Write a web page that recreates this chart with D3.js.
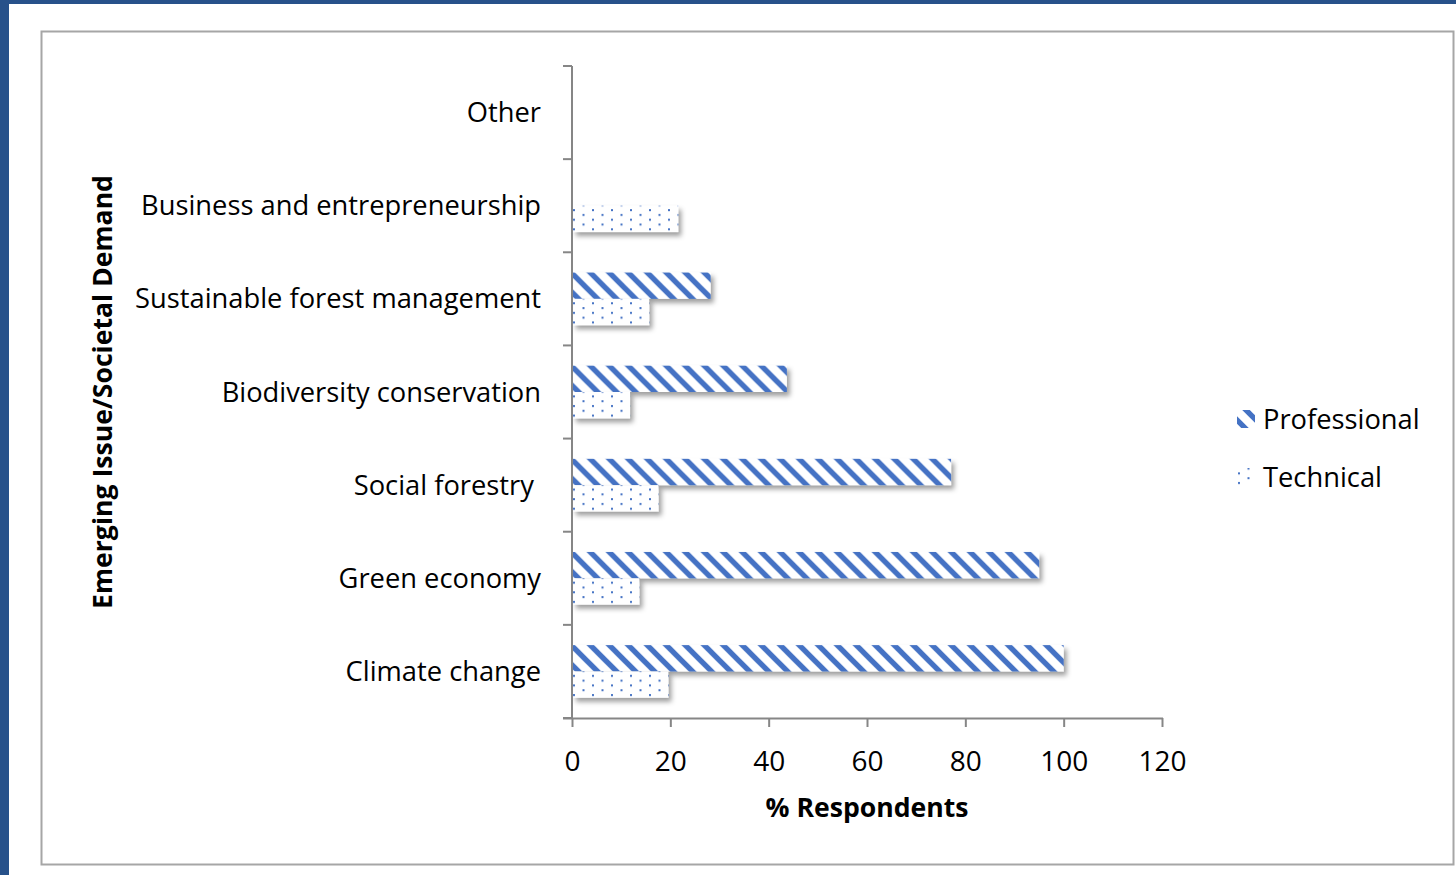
<!DOCTYPE html>
<html>
<head>
<meta charset="utf-8">
<script src="https://cdn.jsdelivr.net/npm/d3@7/dist/d3.min.js"></script>
<style>
  html, body { margin: 0; padding: 0; background: #ffffff; }
  svg { display: block; }
  text { font-family: "Open Sans", Lato, sans-serif; fill: #000; }
</style>
</head>
<body>
<svg id="chart" width="1456" height="875"></svg>
<script>
// Categories listed bottom-to-top as they appear on the axis
const categories = [
  "Climate change",
  "Green economy",
  "Social forestry ",
  "Biodiversity conservation",
  "Sustainable forest management",
  "Business and entrepreneurship",
  "Other"
];
const seriesNames = ["Professional", "Technical"];
const professional = [100, 95, 77.1, 43.7, 28.2, 0, 0];
const technical = [19.6, 13.7, 17.6, 11.8, 15.7, 21.6, 0];
const xTicks = [0, 20, 40, 60, 80, 100, 120];
const xTitle = "% Respondents";
const yTitle = "Emerging Issue/Societal Demand";

const blue = "#4472c4";
const axisGrey = "#868686";
const fontFamily = "'Open Sans', Lato, sans-serif";
const labelSize = 27.3;
const titleSize = 26.6;

const svg = d3.select("#chart");

// page frame: dark blue slide edges and the bordered chart area
svg.append("rect").attr("x", 0).attr("y", 0).attr("width", 1456).attr("height", 875).attr("fill", "#27518a");
svg.append("rect").attr("x", 9).attr("y", 4).attr("width", 1447).attr("height", 871).attr("fill", "#ffffff");
svg.append("rect").attr("x", 41.5).attr("y", 31.5).attr("width", 1412).attr("height", 833)
  .attr("fill", "#ffffff").attr("stroke", "#a6a6a6").attr("stroke-width", 2);

const defs = svg.append("defs");

// wide downward diagonal hatch
const hatch = defs.append("pattern").attr("id", "hatch-pro")
  .attr("patternUnits", "userSpaceOnUse").attr("width", 19).attr("height", 19);
hatch.append("rect").attr("width", 19).attr("height", 19).attr("fill", "#ffffff");
hatch.append("path")
  .attr("d", "M-4.75,-4.75L23.75,23.75M-4.75,14.25L4.75,23.75M14.25,-4.75L23.75,4.75")
  .attr("stroke", blue).attr("stroke-width", 5.4).attr("fill", "none");

// small dot grid
const dots = defs.append("pattern").attr("id", "dots-tech")
  .attr("patternUnits", "userSpaceOnUse").attr("width", 19).attr("height", 9.6);
dots.append("rect").attr("width", 19).attr("height", 9.6).attr("fill", "#ffffff");
dots.append("rect").attr("x", 3).attr("y", 2).attr("width", 2).attr("height", 2).attr("fill", blue);
dots.append("rect").attr("x", 12.5).attr("y", 6.8).attr("width", 2).attr("height", 2).attr("fill", blue);

const fills = { Professional: "url(#hatch-pro)", Technical: "url(#dots-tech)" };

// soft drop shadow under each bar
const shadow = defs.append("filter").attr("id", "bar-shadow")
  .attr("x", "-10%").attr("y", "-30%").attr("width", "130%").attr("height", "180%");
shadow.append("feDropShadow").attr("dx", 3).attr("dy", 4).attr("stdDeviation", 2.5)
  .attr("flood-color", "#000").attr("flood-opacity", 0.38);

// scales
const x = d3.scaleLinear().domain([0, 120]).range([572, 1162]);
const yCat = d3.scaleBand().domain(categories.slice().reverse()).range([66, 718]).padding(0);
const ySeries = d3.scaleBand().domain(seriesNames).range([0, yCat.bandwidth()])
  .paddingInner(0).paddingOuter(0.77);

const rows = categories.map((c, i) => ({ cat: c, Professional: professional[i], Technical: technical[i] }));

// bars
const groups = svg.append("g").selectAll("g").data(rows).join("g")
  .attr("transform", d => `translate(0,${yCat(d.cat)})`);
groups.selectAll("rect")
  .data(d => seriesNames.map(s => ({ s, v: d[s] })).filter(e => e.v > 0))
  .join("rect")
  .attr("x", x(0) + 1)
  .attr("y", e => ySeries(e.s))
  .attr("width", e => x(e.v) - x(0) - 1)
  .attr("height", ySeries.bandwidth())
  .attr("fill", e => fills[e.s])
  .attr("filter", "url(#bar-shadow)");

// x axis
const xAxis = svg.append("g").attr("transform", "translate(0,718)")
  .call(d3.axisBottom(x).tickValues(xTicks).tickSize(9).tickSizeOuter(0).tickPadding(24));
xAxis.select(".domain").attr("stroke", axisGrey).attr("stroke-width", 2)
  .attr("d", `M${x(0) - 9},0.5H${x(120) + 1}`);
xAxis.selectAll(".tick line").attr("stroke", axisGrey).attr("stroke-width", 2);
xAxis.selectAll(".tick text").attr("font-size", labelSize + 0.7).attr("font-family", fontFamily).attr("fill", "#000");

// y axis: line, ticks at category boundaries, labels at centres
const yAxis = svg.append("g");
yAxis.append("line").attr("x1", x(0)).attr("x2", x(0)).attr("y1", 66).attr("y2", 718)
  .attr("stroke", axisGrey).attr("stroke-width", 2);
const boundaries = categories.map(c => yCat(c)).concat([yCat.range()[1]]);
yAxis.selectAll("line.tk").data(boundaries).join("line").attr("class", "tk")
  .attr("x1", x(0) - 9).attr("x2", x(0)).attr("y1", d => d).attr("y2", d => d)
  .attr("stroke", axisGrey).attr("stroke-width", 2);
yAxis.selectAll("text").data(categories).join("text")
  .attr("x", 541)
  .attr("y", c => yCat(c) + yCat.bandwidth() / 2)
  .attr("dy", "0.35em")
  .attr("text-anchor", "end")
  .attr("font-size", labelSize)
  .style("white-space", "pre")
  .text(c => c);

// axis titles
svg.append("text").attr("x", 867).attr("y", 817).attr("text-anchor", "middle")
  .attr("font-size", titleSize).attr("font-weight", "bold").text(xTitle);
svg.append("text").attr("transform", "translate(112,392) rotate(-90)").attr("text-anchor", "middle")
  .attr("font-size", titleSize).attr("font-weight", "bold").text(yTitle);

// legend
const legend = svg.append("g");
seriesNames.forEach((s, i) => {
  const ly = 419 + i * 58;
  legend.append("rect").attr("x", 1237).attr("y", ly - 9).attr("width", 18).attr("height", 18)
    .attr("fill", fills[s]);
  legend.append("text").attr("x", 1263).attr("y", ly).attr("dy", "0.35em")
    .attr("font-size", labelSize).text(s);
});
</script>
</body>
</html>
